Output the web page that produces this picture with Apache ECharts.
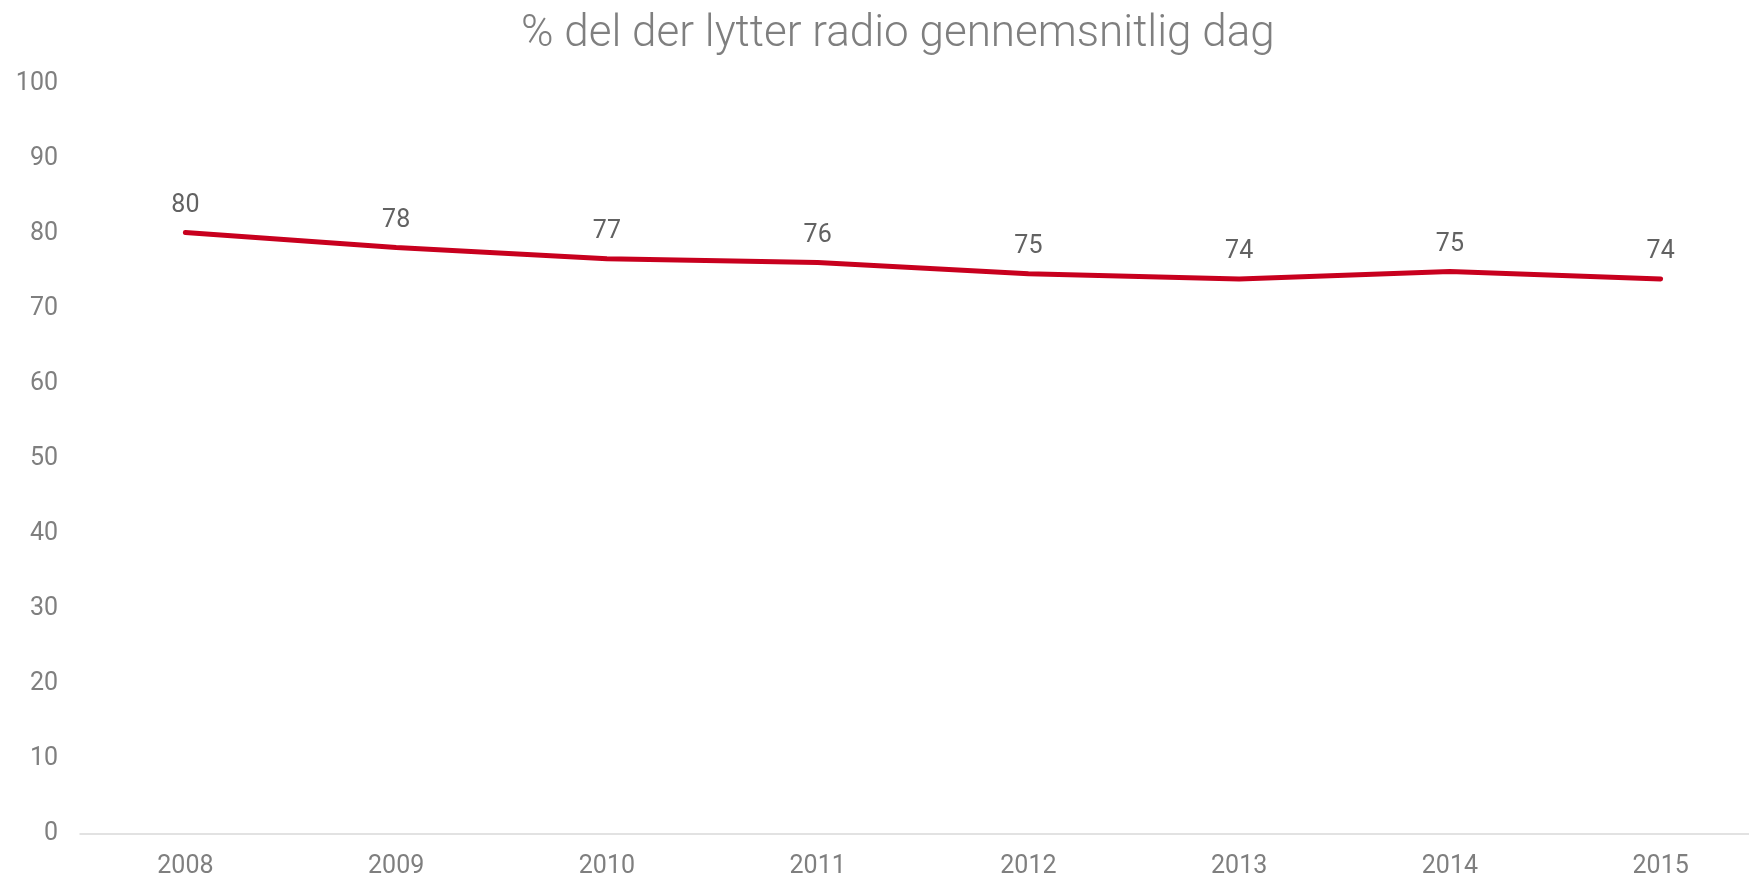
<!DOCTYPE html>
<html>
<head>
<meta charset="utf-8">
<script src="https://cdn.jsdelivr.net/npm/echarts@6/dist/echarts.min.js"></script>
<style>
    html, body { margin: 0; padding: 0; background: #fff; }
    #main { width: 1749px; height: 879px; }
</style>
</head>
<body>
<div id="main"></div>
<script>
// 数据
var years = ['2008', '2009', '2010', '2011', '2012', '2013', '2014', '2015'];
var listeners = [80.2, 78.2, 76.7, 76.2, 74.7, 74.0, 75.0, 74.0];
var yTicks = [0, 10, 20, 30, 40, 50, 60, 70, 80, 90, 100];

(function() {
    var chart = echarts.init(document.getElementById('main'));
    var option = {
        backgroundColor: '#fff',
        animation: false,
        title: {
            text: '% del der lytter radio gennemsnitlig dag',
            left: 516,
            top: 8,
            textStyle: {
                color: '#7f7f7f',
                fontFamily: 'Roboto',
                fontWeight: 300,
                fontSize: 44
            }
        },
        grid: {
            left: 80,
            width: 1686,
            top: 84,
            bottom: 45,
            outerBoundsMode: 'none'
        },
        xAxis: {
            type: 'category',
            data: years,
            boundaryGap: true,
            axisLine: { lineStyle: { color: '#d9d9d9', width: 1.5 } },
            axisTick: { show: false },
            axisLabel: {
                color: '#7f7f7f',
                fontFamily: 'Roboto',
                fontSize: 25,
                margin: 20
            }
        },
        yAxis: {
            type: 'value',
            min: yTicks[0],
            max: yTicks[yTicks.length - 1],
            interval: 10,
            splitLine: { show: false },
            axisLine: { show: false },
            axisTick: { show: false },
            axisLabel: {
                color: '#7f7f7f',
                fontFamily: 'Roboto',
                fontSize: 25,
                margin: 22
            }
        },
        series: [{
            type: 'line',
            data: listeners,
            symbol: 'circle',
            symbolSize: 1,
            showSymbol: true,
            itemStyle: { color: '#c8001e' },
            lineStyle: { color: '#c8001e', width: 5, cap: 'round' },
            label: {
                show: true,
                position: 'top',
                distance: 14,
                color: '#626262',
                fontFamily: 'Roboto',
                fontSize: 25,
                formatter: function(p) { return Math.round(p.value); }
            }
        }]
    };
    chart.setOption(option);
})();
</script>
</body>
</html>
